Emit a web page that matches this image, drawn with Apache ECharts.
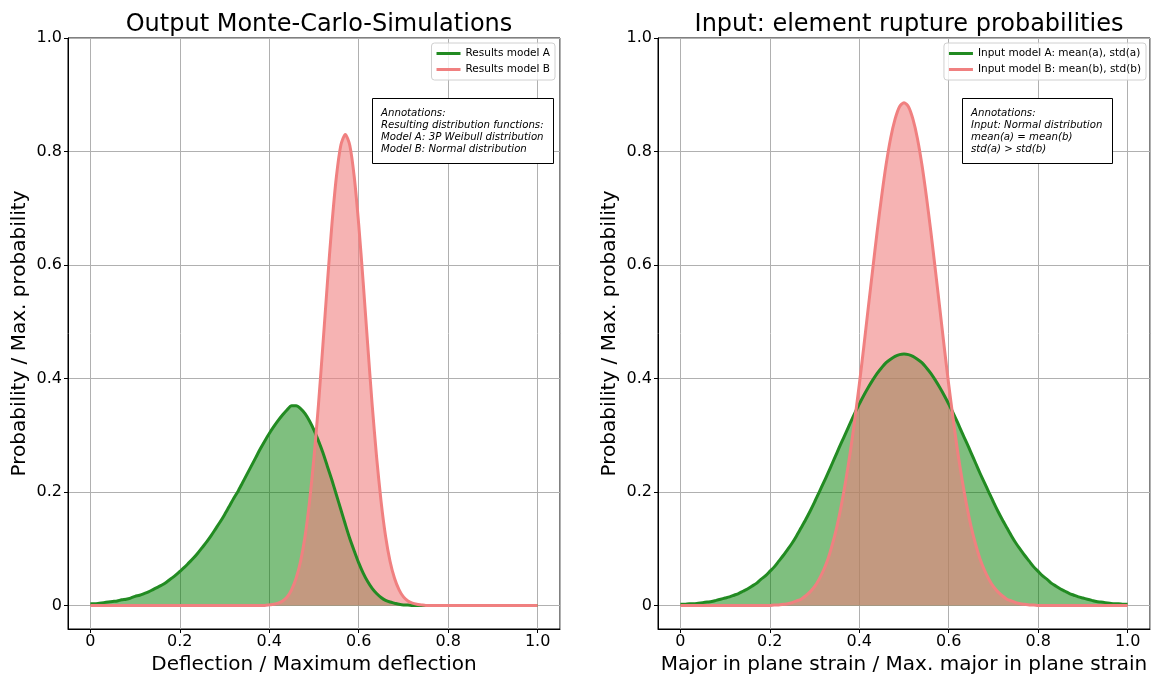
<!DOCTYPE html>
<html>
<head>
<meta charset="utf-8">
<script src="https://cdn.jsdelivr.net/npm/echarts@6/dist/echarts.min.js"></script>
<style>
  html, body { margin: 0; padding: 0; background: #fff; }
  #chart { width: 1154px; height: 675px; }
</style>
</head>
<body>
<div id="chart"></div>
<script>
// x positions (0 .. 1 in steps of 0.01), shared by all four curves
var xs = [];
for (var i = 0; i <= 100; i++) xs.push(i / 100);

// left panel: Monte-Carlo output
var resultA = [
  0.003, 0.003, 0.004, 0.005, 0.006, 0.007, 0.008, 0.010, 0.011, 0.013,
  0.016, 0.018, 0.021, 0.024, 0.028, 0.032, 0.036, 0.041, 0.047, 0.053,
  0.060, 0.067, 0.075, 0.083, 0.092, 0.102, 0.112, 0.123, 0.135, 0.147,
  0.160, 0.174, 0.188, 0.201, 0.216, 0.231, 0.246, 0.261, 0.276, 0.290,
  0.303, 0.315, 0.326, 0.336, 0.345, 0.352, 0.352, 0.347, 0.338, 0.325,
  0.309, 0.290, 0.269, 0.245, 0.221, 0.195, 0.169, 0.143, 0.118, 0.096,
  0.075, 0.057, 0.042, 0.030, 0.021, 0.014, 0.009, 0.006, 0.004, 0.002,
  0.001, 0.001, 0, 0, 0, 0, 0, 0, 0, 0,
  0, 0, 0, 0, 0, 0, 0, 0, 0, 0,
  0, 0, 0, 0, 0, 0, 0, 0, 0, 0,
  0
];
var resultB = [
  0, 0, 0, 0, 0, 0, 0, 0, 0, 0,
  0, 0, 0, 0, 0, 0, 0, 0, 0, 0,
  0, 0, 0, 0, 0, 0, 0, 0, 0, 0,
  0, 0, 0, 0, 0, 0, 0, 0, 0, 0,
  0.001, 0.002, 0.004, 0.008, 0.015, 0.028, 0.048, 0.078, 0.122, 0.183,
  0.261, 0.354, 0.460, 0.569, 0.671, 0.755, 0.811, 0.830, 0.811, 0.755,
  0.671, 0.569, 0.460, 0.354, 0.261, 0.183, 0.122, 0.078, 0.048, 0.028,
  0.015, 0.008, 0.004, 0.002, 0.001, 0, 0, 0, 0, 0,
  0, 0, 0, 0, 0, 0, 0, 0, 0, 0,
  0, 0, 0, 0, 0, 0, 0, 0, 0, 0,
  0
];

// right panel: input distributions
var inputA = [
  0.002, 0.002, 0.003, 0.003, 0.004, 0.005, 0.006, 0.007, 0.009, 0.011,
  0.013, 0.015, 0.018, 0.021, 0.025, 0.029, 0.034, 0.039, 0.046, 0.052,
  0.060, 0.068, 0.078, 0.088, 0.099, 0.110, 0.123, 0.137, 0.151, 0.166,
  0.182, 0.199, 0.216, 0.233, 0.251, 0.269, 0.287, 0.304, 0.322, 0.339,
  0.355, 0.370, 0.384, 0.397, 0.409, 0.419, 0.428, 0.434, 0.439, 0.442,
  0.443, 0.442, 0.439, 0.434, 0.428, 0.419, 0.409, 0.397, 0.384, 0.370,
  0.355, 0.339, 0.322, 0.304, 0.287, 0.269, 0.251, 0.233, 0.216, 0.199,
  0.182, 0.166, 0.151, 0.137, 0.123, 0.110, 0.099, 0.088, 0.078, 0.068,
  0.060, 0.052, 0.046, 0.039, 0.034, 0.029, 0.025, 0.021, 0.018, 0.015,
  0.013, 0.011, 0.009, 0.007, 0.006, 0.005, 0.004, 0.003, 0.003, 0.002,
  0.002
];
var inputB = [
  0, 0, 0, 0, 0, 0, 0, 0, 0, 0,
  0, 0, 0, 0, 0, 0, 0, 0, 0, 0,
  0, 0.001, 0.001, 0.002, 0.003, 0.005, 0.008, 0.011, 0.017, 0.024,
  0.033, 0.046, 0.062, 0.082, 0.108, 0.139, 0.177, 0.221, 0.271, 0.328,
  0.389, 0.455, 0.524, 0.592, 0.659, 0.721, 0.777, 0.823, 0.857, 0.879,
  0.886, 0.879, 0.857, 0.823, 0.777, 0.721, 0.659, 0.592, 0.524, 0.455,
  0.389, 0.328, 0.271, 0.221, 0.177, 0.139, 0.108, 0.082, 0.062, 0.046,
  0.033, 0.024, 0.017, 0.011, 0.008, 0.005, 0.003, 0.002, 0.001, 0.001,
  0, 0, 0, 0, 0, 0, 0, 0, 0, 0,
  0, 0, 0, 0, 0, 0, 0, 0, 0, 0,
  0
];

var titles = ["Output Monte-Carlo-Simulations", "Input: element rupture probabilities"];
var xNames = ["Deflection / Maximum deflection", "Major in plane strain / Max. major in plane strain"];
var yName = "Probability / Max. probability";
var legendNames = [
  ["Results model A", "Results model B"],
  ["Input model A: mean(a), std(a)", "Input model B: mean(b), std(b)"]
];
var notes = [
  "Annotations:\nResulting distribution functions:\nModel A: 3P Weibull distribution\nModel B: Normal distribution",
  "Annotations:\nInput: Normal distribution\nmean(a) = mean(b)\nstd(a) > std(b)"
];

var GREEN = "#228b22";
var CORAL = "#f08080";
var FONT = "DejaVu Sans";

function pairs(ys) {
  return xs.map(function (x, k) { return [x, ys[k]]; });
}

function tickFmt(v) {
  if (Math.abs(v) < 1e-9) return "0";
  return v.toFixed(1);
}

function xAxisFor(idx) {
  return {
    gridIndex: idx,
    type: "value",
    min: -0.05,
    max: 1.05,
    splitNumber: 5,
    name: xNames[idx],
    nameLocation: "middle",
    nameGap: 24,
    nameTextStyle: { fontFamily: FONT, fontSize: 20, color: "#000" },
    axisLine: { show: true, onZero: false, lineStyle: { color: "#000", width: 1 } },
    axisTick: { show: true, length: 4, lineStyle: { color: "#000" } },
    axisLabel: {
      showMinLabel: false, showMaxLabel: false,
      fontFamily: FONT, fontSize: 16, color: "#000", margin: 5,
      formatter: tickFmt
    },
    splitLine: { show: true, lineStyle: { color: "#b0b0b0", width: 1 } }
  };
}

function yAxisFor(idx) {
  return {
    gridIndex: idx,
    type: "value",
    min: -0.0415,
    max: 1.0,
    splitNumber: 5,
    name: yName,
    nameLocation: "middle",
    nameGap: 38,
    nameTextStyle: { fontFamily: FONT, fontSize: 20, color: "#000" },
    axisLine: { show: true, onZero: false, lineStyle: { color: "#000", width: 1 } },
    axisTick: { show: true, length: 4, lineStyle: { color: "#000" } },
    axisLabel: {
      showMinLabel: false,
      fontFamily: FONT, fontSize: 16, color: "#000", margin: 6,
      formatter: tickFmt
    },
    splitLine: { show: true, lineStyle: { color: "#b0b0b0", width: 1 } }
  };
}

function areaSeries(idx, ys, color, opacity) {
  return {
    type: "line",
    xAxisIndex: idx, yAxisIndex: idx,
    data: pairs(ys),
    showSymbol: false,
    smooth: 0.25,
    lineStyle: { width: 0 },
    areaStyle: { color: color, opacity: opacity },
    silent: true,
    z: 2
  };
}

function lineSeries(idx, name, ys, color, z) {
  return {
    name: name,
    type: "line",
    xAxisIndex: idx, yAxisIndex: idx,
    data: pairs(ys),
    showSymbol: false,
    smooth: 0.25,
    lineStyle: { color: color, width: 3, join: "round" },
    itemStyle: { color: color },
    z: z
  };
}

function legendFor(idx, right) {
  return {
    data: legendNames[idx],
    orient: "vertical",
    right: right,
    top: 43,
    icon: "rect",
    itemWidth: 24,
    itemHeight: 3,
    itemGap: 5,
    padding: [5, 5, 5, 5],
    borderColor: "#d0d0d0",
    borderWidth: 1,
    borderRadius: 3,
    backgroundColor: "rgba(255,255,255,0.8)",
    textStyle: { fontFamily: FONT, fontSize: 10.5, color: "#000" }
  };
}

function noteTitle(text, left) {
  return {
    text: text,
    left: left,
    top: 98,
    padding: [9, 10, 9, 9],
    borderColor: "#000",
    borderWidth: 1,
    backgroundColor: "#fff",
    textStyle: { fontFamily: FONT, fontSize: 10.2, fontStyle: "italic", fontWeight: "normal",
      color: "#000", lineHeight: 12 }
  };
}

var chart = echarts.init(document.getElementById("chart"));

var option = {
  animation: false,
  backgroundColor: "#fff",
  title: [
    { text: titles[0], left: 314, top: 8, textAlign: "center",
      textStyle: { fontFamily: FONT, fontSize: 24, fontWeight: "normal", color: "#000" } },
    { text: titles[1], left: 904, top: 8, textAlign: "center",
      textStyle: { fontFamily: FONT, fontSize: 24, fontWeight: "normal", color: "#000" } },
    noteTitle(notes[0], 372),
    noteTitle(notes[1], 962)
  ],
  legend: [legendFor(0, 599), legendFor(1, 8)],
  grid: [
    { left: 68, right: 594, top: 38, bottom: 46, outerBoundsMode: "none",
      show: true, borderColor: "#000", borderWidth: 1 },
    { left: 658, right: 4, top: 38, bottom: 46, outerBoundsMode: "none",
      show: true, borderColor: "#000", borderWidth: 1 }
  ],
  xAxis: [xAxisFor(0), xAxisFor(1)],
  yAxis: [yAxisFor(0), yAxisFor(1)],
  series: [
    areaSeries(0, resultA, "#008000", 0.5),
    areaSeries(0, resultB, CORAL, 0.6),
    lineSeries(0, legendNames[0][0], resultA, GREEN, 5),
    lineSeries(0, legendNames[0][1], resultB, CORAL, 6),
    areaSeries(1, inputA, "#008000", 0.5),
    areaSeries(1, inputB, CORAL, 0.6),
    lineSeries(1, legendNames[1][0], inputA, GREEN, 5),
    lineSeries(1, legendNames[1][1], inputB, CORAL, 6)
  ]
};

chart.setOption(option);

window.addEventListener("resize", function () {
  chart.resize();
});
</script>
</body>
</html>
